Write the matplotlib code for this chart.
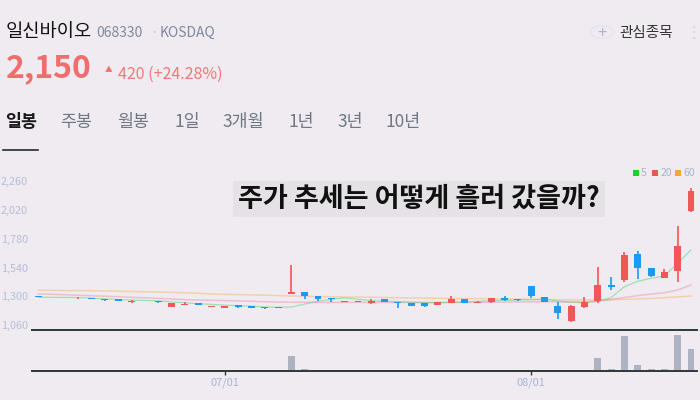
import numpy as np
import matplotlib.pyplot as plt
from matplotlib.patches import Rectangle, Circle

plt.rcParams['font.family'] = ['Noto Sans CJK KR', 'DejaVu Sans']

# ===================== 데이터 =====================
opens = [1300, 1293, 1293, 1283, 1284, 1281, 1279, 1256, 1258, 1262,
         1213, 1230, 1241, 1213, 1204, 1227, 1219, 1210, 1208, 1321,
         1335, 1302, 1285, 1260, 1258, 1243, 1274, 1252, 1241, 1241,
         1224, 1246, 1277, 1243, 1249, 1285, 1277, 1385, 1294, 1221,
         1091, 1210, 1260, 1394, 1436, 1653, 1536, 1455, 1513, 2015]
highs = [1302, 1293, 1293, 1290, 1284, 1281, 1279, 1269, 1262, 1262,
         1241, 1252, 1241, 1221, 1221, 1227, 1219, 1210, 1208, 1558,
         1335, 1302, 1285, 1260, 1258, 1277, 1274, 1252, 1244, 1241,
         1252, 1302, 1277, 1263, 1283, 1302, 1277, 1385, 1294, 1255,
         1224, 1294, 1547, 1461, 1672, 1680, 1536, 1525, 1886, 2200]
lows = [1290, 1290, 1290, 1280, 1277, 1262, 1262, 1246, 1258, 1246,
        1213, 1230, 1224, 1213, 1204, 1204, 1204, 1194, 1204, 1321,
        1274, 1263, 1255, 1252, 1252, 1238, 1255, 1204, 1221, 1213,
        1224, 1246, 1243, 1243, 1243, 1258, 1260, 1283, 1255, 1113,
        1088, 1202, 1246, 1352, 1421, 1441, 1461, 1455, 1421, 2005]
closes = [1295, 1290, 1290, 1288, 1279, 1271, 1262, 1260, 1262, 1256,
          1241, 1234, 1224, 1221, 1221, 1213, 1204, 1202, 1204, 1335,
          1302, 1280, 1274, 1252, 1252, 1263, 1255, 1246, 1221, 1221,
          1252, 1277, 1243, 1252, 1283, 1269, 1269, 1302, 1255, 1163,
          1221, 1252, 1394, 1380, 1647, 1538, 1469, 1502, 1719, 2180]
volumes = [0.2, 0.2, 0.2, 0.2, 0.2, 0.2, 0.2, 0.2, 0.2, 0.2,
           0.2, 0.2, 0.2, 0.2, 0.2, 0.8, 0.2, 0.2, 0.2, 15,
           2, 1, 0.6, 0.6, 0.3, 0.6, 0.2, 0.2, 0.2, 0.2,
           0.6, 0.6, 0.2, 0.2, 0.2, 0.2, 0.2, 1, 0.2, 0.6,
           0.6, 0.6, 13.3, 1.7, 35, 6, 2, 2, 36, 22]
ma5 = [1292, 1291, 1290, 1289, 1284, 1278, 1272, 1268, 1265, 1262,
       1253, 1246, 1238, 1232, 1226, 1222, 1218, 1210, 1208, 1210,
       1235, 1258, 1275, 1286, 1275, 1263, 1260, 1256, 1250, 1248,
       1246, 1250, 1254, 1258, 1262, 1266, 1268, 1272, 1276, 1260,
       1250, 1246, 1258, 1288, 1380, 1425, 1450, 1470, 1575, 1686]
ma20 = [1319, 1316, 1313, 1308, 1304, 1300, 1296, 1291, 1287, 1282,
        1277, 1272, 1268, 1266, 1264, 1261, 1258, 1255, 1252, 1251,
        1250, 1249, 1249, 1249, 1249, 1249, 1248, 1248, 1248, 1248,
        1248, 1248, 1248, 1249, 1250, 1251, 1252, 1254, 1255, 1254,
        1252, 1254, 1258, 1272, 1290, 1305, 1318, 1330, 1352, 1394]
ma60 = [1350, 1349, 1348, 1347, 1346, 1344, 1342, 1340, 1338, 1335,
        1333, 1329, 1325, 1319, 1316, 1314, 1311, 1309, 1305, 1302,
        1300, 1297, 1296, 1294, 1293, 1291, 1289, 1288, 1286, 1285,
        1283, 1282, 1281, 1280, 1279, 1277, 1276, 1275, 1272, 1271,
        1270, 1269, 1270, 1272, 1274, 1278, 1282, 1288, 1295, 1302]
x_tick_pos = [14, 37]
x_tick_labels = ["07/01", "08/01"]
y_ticks = [1060, 1300, 1540, 1780, 2020, 2260]
tabs = ["일봉", "주봉", "월봉", "1일", "3개월", "1년", "3년", "10년"]
tab_x = [5, 60, 117, 174, 222, 288, 337, 386]

BG = "#efebf0"
UP = "#f25757"
DOWN = "#1a9bf0"
W, H = 700, 400

fig = plt.figure(figsize=(7, 4), dpi=100, facecolor=BG)

def fx(px):
    return px / W

def fy(py):
    return 1 - py / H

# ===================== 헤더 =====================
fig.text(fx(6), fy(32), "일신바이오", fontsize=13.5, color="#111111", va="center")
fig.text(fx(96), fy(33), "068330", fontsize=10, color="#7e8aa0", va="center")
fig.text(fx(150), fy(33), "·", fontsize=10, color="#c3c8d6", va="center")
fig.text(fx(160), fy(33), "KOSDAQ", fontsize=10, color="#7e8aa0", va="center")
fig.text(fx(6), fy(68), "2,150", fontsize=23, color="#f06d6d", va="center", fontweight="bold")
fig.text(fx(105), fy(70), "▲", fontsize=5.5, color="#f07070", va="center")
fig.text(fx(118), fy(74), "420 (+24.28%)", fontsize=11.5, color="#f07878", va="center")

fig.patches.append(Circle((fx(602), fy(32)), 0.016, transform=fig.transFigure,
                          facecolor="none", edgecolor="#e2e0ea", linewidth=0.6))
fig.text(fx(602), fy(33), "+", fontsize=12, color="#a9b6cf", va="center", ha="center")
fig.text(fx(619), fy(33), "관심종목", fontsize=10.5, color="#333333", va="center")
for dy in (27, 32, 38):
    fig.patches.append(Circle((fx(694), fy(dy)), 0.0025, transform=fig.transFigure,
                              facecolor="#d3dbec", edgecolor="none"))

# 탭
for i, (t, x) in enumerate(zip(tabs, tab_x)):
    fig.text(fx(x), fy(122), t, fontsize=12.5, va="center",
             color="#1a1a1a" if i == 0 else "#6f7785",
             fontweight="bold" if i == 0 else "normal")
fig.lines.append(plt.Line2D([fx(3), fx(38)], [fy(150), fy(150)], transform=fig.transFigure,
                            color="#1f2d2a", linewidth=1.2))

# ===================== 캔들 차트 =====================
ax = fig.add_axes([fx(32), fy(330.3), fx(665), (330.3 - 168) / H])
ax.set_facecolor(BG)
idx = np.arange(len(opens))
o = np.array(opens); c = np.array(closes)
colors = [UP if cc >= oo else DOWN for oo, cc in zip(o, c)]
ax.vlines(idx, lows, highs, colors=colors, linewidth=1.2, zorder=3)
body_bottom = np.minimum(o, c)
body_h = np.maximum(np.abs(c - o), 5)
ax.bar(idx, body_h, bottom=body_bottom, width=0.52, color=colors, zorder=4)

ax.plot(idx, ma60, color="#f5b25a", alpha=0.45, linewidth=1.1, zorder=2)
ax.plot(idx, ma20, color="#f07aa0", alpha=0.4, linewidth=1.1, zorder=2)
ax.plot(idx, ma5, color="#4cd47a", alpha=0.5, linewidth=0.9, zorder=2)

ax.set_xlim(-0.47, 49.45)
ax.set_ylim(1016, 2370)
ax.set_yticks(y_ticks)
ax.set_yticklabels([f"{v:,}" for v in y_ticks], fontsize=7.8, color="#b3bfd8")
ax.tick_params(axis="y", length=0, pad=3)
ax.set_xticks([])
for s in ["top", "left", "right"]:
    ax.spines[s].set_visible(False)
ax.spines["bottom"].set_color("#2a3a34")
ax.spines["bottom"].set_linewidth(1.4)

# ===================== 거래량 =====================
vax = fig.add_axes([fx(32), fy(371), fx(665), (371 - 330.3) / H])
vax.set_facecolor("none")
vax.bar(idx, volumes, width=0.52, color="#adb3c3")
vax.set_xlim(-0.47, 49.45)
vax.set_ylim(0, 40.7)
vax.set_yticks([])
vax.set_xticks(x_tick_pos)
vax.set_xticklabels(x_tick_labels, fontsize=8, color="#a9b5cf")
vax.tick_params(axis="x", length=3, width=1, color="#2a3a34", pad=2)
for s in ["top", "left", "right"]:
    vax.spines[s].set_visible(False)
vax.spines["bottom"].set_color("#2a3a34")
vax.spines["bottom"].set_linewidth(1.4)

# ===================== 범례 =====================
for sx, tx, col, lab in [(633, 641, "#1ed21e", "5"), (652, 661, "#f05555", "20"),
                         (675, 683, "#f5a82a", "60")]:
    fig.patches.append(Rectangle((fx(sx), fy(176)), fx(6), 6 / H, transform=fig.transFigure,
                                 facecolor=col, edgecolor="none"))
    fig.text(fx(tx), fy(173), lab, fontsize=7.5, color="#aab4c8", va="center")

# ===================== 제목 박스 =====================
fig.patches.append(Rectangle((fx(233), fy(217)), fx(372), 36 / H, transform=fig.transFigure,
                             facecolor="#e5e2e6", edgecolor="none"))
fig.text(fx(419), fy(199), "주가 추세는 어떻게 흘러 갔을까?", fontsize=19.5,
         fontweight="bold", color="#111111", ha="center", va="center")

plt.savefig("out.png", dpi=100, facecolor=BG)
